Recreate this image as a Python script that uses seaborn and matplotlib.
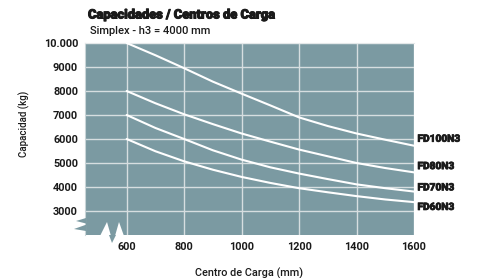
import pandas as pd
import seaborn as sns
import matplotlib.pyplot as plt
import matplotlib.patheffects as pe
from matplotlib.patches import Polygon

# Load center (mm) and capacity (kg)
centros = [600, 700, 800, 900, 1000, 1100, 1200, 1300, 1400, 1500, 1600]
fd100n3 = [10000, 9490, 8950, 8390, 7890, 7400, 6900, 6540, 6230, 5970, 5720]
fd80n3 = [8000, 7490, 7030, 6620, 6230, 5890, 5560, 5280, 5000, 4790, 4610]
fd70n3 = [7000, 6460, 6000, 5530, 5140, 4820, 4560, 4330, 4110, 3950, 3810]
fd60n3 = [6000, 5490, 5070, 4720, 4420, 4170, 3950, 3780, 3620, 3480, 3370]
modelos = ["FD100N3", "FD80N3", "FD70N3", "FD60N3"]
y_ticks = [3000, 4000, 5000, 6000, 7000, 8000, 9000, 10000]
y_labels = ["3000", "4000", "5000", "6000", "7000", "8000", "9000", "10.000"]
x_ticks = [600, 800, 1000, 1200, 1400, 1600]

df = pd.DataFrame({
    "centro": centros * 4,
    "capacidad": fd100n3 + fd80n3 + fd70n3 + fd60n3,
    "modelo": [m for m in modelos for _ in centros],
})

BG = "#7b9aa2"
GRID = "#d6dee0"
TXT = "#1a1a1a"
heavy = [pe.withStroke(linewidth=0.7, foreground=TXT)]

sns.set_style("white")
plt.rcParams["font.family"] = ["Roboto", "DejaVu Sans"]

W, H = 482, 278
fig = plt.figure(figsize=(W / 100, H / 100), dpi=100)
# axes box in pixels: left 85, right 414, top 43, bottom 235
ax = fig.add_axes([85 / W, 1 - 235 / H, (414 - 85) / W, (235 - 43) / H])
ax.set_facecolor(BG)

sns.lineplot(data=df, x="centro", y="capacidad", hue="modelo",
             palette=["white"] * 4, linewidth=1.5, legend=False, ax=ax, zorder=3)

ax.set_xlim(455, 1600)
ax.set_ylim(2000, 10000)
ax.set_xticks(x_ticks)
ax.set_yticks(y_ticks)
ax.set_yticklabels(y_labels)
ax.grid(True, color=GRID, linewidth=1.0, zorder=1)
ax.set_axisbelow(True)
for s in ax.spines.values():
    s.set_visible(False)
ax.spines["left"].set_visible(True)
ax.spines["left"].set_color("#c9d5d8")
ax.spines["top"].set_visible(True)
ax.spines["top"].set_color("#e4e8e9")
ax.tick_params(length=0, labelsize=7.8, colors=TXT, pad=5)
for lab in ax.get_xticklabels() + ax.get_yticklabels():
    lab.set_fontweight("bold")

ax.set_xlabel("Centro de Carga (mm)", fontsize=7.8, color=TXT,
              fontweight="medium", labelpad=11)
ax.set_ylabel("Capacidad (kg)", fontsize=7, color=TXT, fontweight="medium")
ax.yaxis.set_label_coords(-0.167, 0.58)

# series labels at the right end of each curve (vertical nudge in points)
nudges = [5, 4.5, 3, -3.5]
for m, serie, dy in zip(modelos, [fd100n3, fd80n3, fd70n3, fd60n3], nudges):
    ax.annotate(m, xy=(1600, serie[-1]), xytext=(2.5, dy), textcoords="offset points",
                ha="left", va="center", fontsize=7.3, fontweight="black",
                color=TXT, annotation_clip=False,
                path_effects=[pe.withStroke(linewidth=0.5, foreground=TXT)])

# broken-axis zigzag at the lower left (pixel coordinates -> figure fraction)
def px(pts):
    return [(x / W, 1 - y / H) for x, y in pts]

fig.patches.append(Polygon(px([(100, 236), (107, 222), (111, 236)]),
                           closed=True, fc="white", ec="none", transform=fig.transFigure, zorder=5))
fig.patches.append(Polygon(px([(115, 236), (119, 222), (124, 236)]),
                           closed=True, fc="white", ec="none", transform=fig.transFigure, zorder=5))
fig.patches.append(Polygon(px([(109, 235), (112, 243), (116, 235)]),
                           closed=True, fc=BG, ec="none", transform=fig.transFigure, zorder=5))
fig.patches.append(Polygon(px([(86, 218), (76, 221), (88, 224), (74, 229), (86, 231)]),
                           closed=True, fc=BG, ec="none", transform=fig.transFigure, zorder=5))

fig.text(88 / W, 1 - 15 / H, "Capacidades / Centros de Carga", fontsize=9.3,
         fontweight="black", color=TXT, va="center", ha="left", path_effects=heavy)
fig.text(90 / W, 1 - 31 / H, "Simplex - h3 = 4000 mm", fontsize=8,
         fontweight="medium", color=TXT, va="center", ha="left")

fig.savefig("out.png", dpi=100, facecolor="white")
